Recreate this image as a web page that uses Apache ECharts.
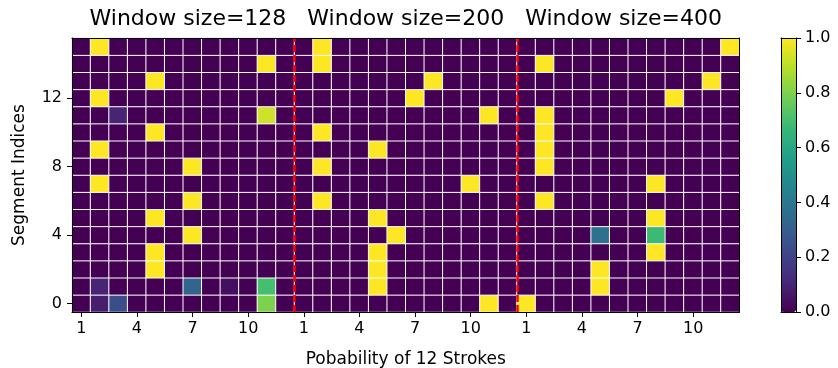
<!DOCTYPE html>
<html>
<head>
<meta charset="utf-8">
<script src="https://cdn.jsdelivr.net/npm/echarts@6/dist/echarts.min.js"></script>
<style>
  html, body { margin: 0; padding: 0; background: #fff; }
  #chart { width: 838px; height: 368px; }
</style>
</head>
<body>
<div id="chart"></div>
<script>
const titleText = "Window size=128   Window size=200   Window size=400";
const strokeLabels = ["1", "2", "3", "4", "5", "6", "7", "8", "9", "10", "11", "12"];
const segmentLabels = ["0", "1", "2", "3", "4", "5", "6", "7", "8", "9", "10", "11", "12", "13", "14", "15"];
const colorbarTicks = [0, 0.2, 0.4, 0.6, 0.8, 1.0];
const windowBoundaries = [12, 24];

// rows: segment 0 (bottom) .. 15 (top), 12 strokes each
const win128 = [
  [0, 0.08, 0.24, 0, 0, 0, 0, 0, 0, 0, 0.8, 0],
  [0, 0.1, 0, 0, 0, 0, 0.32, 0, 0.04, 0, 0.7, 0],
  [0, 0, 0, 0, 1, 0, 0, 0, 0, 0, 0, 0],
  [0, 0, 0, 0, 1, 0, 0, 0, 0, 0, 0, 0],
  [0, 0, 0, 0, 0, 0, 1, 0, 0, 0, 0, 0],
  [0, 0, 0, 0, 1, 0, 0, 0, 0, 0, 0, 0],
  [0, 0, 0, 0, 0, 0, 1, 0, 0, 0, 0, 0],
  [0, 1, 0, 0, 0, 0, 0, 0, 0, 0, 0, 0],
  [0, 0, 0, 0, 0, 0, 1, 0, 0, 0, 0, 0],
  [0, 1, 0, 0, 0, 0, 0, 0, 0, 0, 0, 0],
  [0, 0, 0, 0, 1, 0, 0, 0, 0, 0, 0, 0],
  [0, 0, 0.1, 0, 0, 0, 0, 0, 0, 0, 0.93, 0],
  [0, 1, 0, 0, 0, 0, 0, 0, 0, 0, 0, 0],
  [0, 0, 0, 0, 1, 0, 0, 0, 0, 0, 0, 0],
  [0, 0, 0, 0, 0, 0, 0, 0, 0, 0, 1, 0],
  [0, 1, 0, 0, 0, 0, 0, 0, 0, 0, 0, 0]
];
const win200 = [
  [0, 0, 0, 0, 0, 0, 0, 0, 0, 0, 1, 0],
  [0, 0, 0, 0, 1, 0, 0, 0, 0, 0, 0, 0],
  [0, 0, 0, 0, 1, 0, 0, 0, 0, 0, 0, 0],
  [0, 0, 0, 0, 1, 0, 0, 0, 0, 0, 0, 0],
  [0, 0, 0, 0, 0, 1, 0, 0, 0, 0, 0, 0],
  [0, 0, 0, 0, 1, 0, 0, 0, 0, 0, 0, 0],
  [0, 1, 0, 0, 0, 0, 0, 0, 0, 0, 0, 0],
  [0, 0, 0, 0, 0, 0, 0, 0, 0, 1, 0, 0],
  [0, 1, 0, 0, 0, 0, 0, 0, 0, 0, 0, 0],
  [0, 0, 0, 0, 1, 0, 0, 0, 0, 0, 0, 0],
  [0, 1, 0, 0, 0, 0, 0, 0, 0, 0, 0, 0],
  [0, 0, 0, 0, 0, 0, 0, 0, 0, 0, 1, 0],
  [0, 0, 0, 0, 0, 0, 1, 0, 0, 0, 0, 0],
  [0, 0, 0, 0, 0, 0, 0, 1, 0, 0, 0, 0],
  [0, 1, 0, 0, 0, 0, 0, 0, 0, 0, 0, 0],
  [0, 1, 0, 0, 0, 0, 0, 0, 0, 0, 0, 0]
];
const win400 = [
  [1, 0, 0, 0, 0, 0, 0, 0, 0, 0, 0, 0],
  [0, 0, 0, 0, 1, 0, 0, 0, 0, 0, 0, 0],
  [0, 0, 0, 0, 1, 0, 0, 0, 0, 0, 0, 0],
  [0, 0, 0, 0, 0, 0, 0, 1, 0, 0, 0, 0],
  [0, 0, 0, 0, 0.37, 0, 0, 0.68, 0, 0, 0, 0],
  [0, 0, 0, 0, 0, 0, 0, 1, 0, 0, 0, 0],
  [0, 1, 0, 0, 0, 0, 0, 0, 0, 0, 0, 0],
  [0, 0, 0, 0, 0, 0, 0, 1, 0, 0, 0, 0],
  [0, 1, 0, 0, 0, 0, 0, 0, 0, 0, 0, 0],
  [0, 1, 0, 0, 0, 0, 0, 0, 0, 0, 0, 0],
  [0, 1, 0, 0, 0, 0, 0, 0, 0, 0, 0, 0],
  [0, 1, 0, 0, 0, 0, 0, 0, 0, 0, 0, 0],
  [0, 0, 0, 0, 0, 0, 0, 0, 1, 0, 0, 0],
  [0, 0, 0, 0, 0, 0, 0, 0, 0, 0, 1, 0],
  [0, 1, 0, 0, 0, 0, 0, 0, 0, 0, 0, 0],
  [0, 0, 0, 0, 0, 0, 0, 0, 0, 0, 0, 1]
];

const viridis = ["#440154", "#482878", "#3e4989", "#31688e", "#26828e",
  "#1f9e89", "#35b779", "#6ece58", "#b5de2b", "#fde725"];

const windows = [win128, win200, win400];
const xCats = [];
windows.forEach(() => strokeLabels.forEach((s) => xCats.push(s)));
const cells = [];
windows.forEach((m, w) => {
  m.forEach((row, r) => {
    row.forEach((v, c) => cells.push([w * 12 + c, r, v]));
  });
});

const G = { left: 72, top: 38, width: 667.5, height: 274 };
const CB = { left: 781, top: 38, width: 15, height: 274 };
const font = "DejaVu Sans";
const black = { color: "#000", width: 1 };

// plain frame edge (line only)
const edge = (extra) => Object.assign({
  z: 10,
  axisLine: { show: true, onZero: false, lineStyle: black },
  axisTick: { show: false },
  axisLabel: { show: false },
  splitLine: { show: false }
}, extra);

const chart = echarts.init(document.getElementById("chart"));
chart.setOption({
  animation: false,
  textStyle: { fontFamily: font, color: "#000" },
  title: {
    text: titleText,
    left: G.left + G.width / 2,
    top: 8,
    padding: 0,
    textAlign: "center",
    textStyle: { fontFamily: font, fontSize: 22, fontWeight: "normal", color: "#000" }
  },
  grid: [
    Object.assign({ show: false, outerBoundsMode: "none" }, G),
    Object.assign({ show: false, outerBoundsMode: "none" }, CB)
  ],
  xAxis: [
    {
      type: "category",
      gridIndex: 0,
      data: xCats,
      z: 10,
      name: "Pobability of 12 Strokes",
      nameLocation: "middle",
      nameGap: 39,
      nameMoveOverlap: false,
      nameTextStyle: { fontSize: 17, color: "#000" },
      axisLine: { show: true, lineStyle: black },
      axisTick: { show: true, interval: (i) => i % 3 === 0, alignWithLabel: true, length: 5, lineStyle: black },
      axisLabel: { show: true, interval: (i) => i % 3 === 0, fontSize: 16, color: "#000", margin: 9 },
      splitLine: { show: false }
    },
    edge({ type: "value", gridIndex: 0, position: "top", min: 0, max: 36 }),
    edge({ type: "value", gridIndex: 1, position: "bottom", min: 0, max: 1 }),
    edge({ type: "value", gridIndex: 1, position: "top", min: 0, max: 1 })
  ],
  yAxis: [
    {
      type: "category",
      gridIndex: 0,
      data: segmentLabels,
      z: 10,
      name: "Segment Indices",
      nameLocation: "middle",
      nameGap: 44,
      nameTextStyle: { fontSize: 17, color: "#000" },
      axisLine: { show: true, lineStyle: black },
      axisTick: { show: true, interval: (i) => i % 4 === 0, alignWithLabel: true, length: 5, lineStyle: black },
      axisLabel: { show: true, interval: (i) => i % 4 === 0, fontSize: 16, color: "#000", margin: 10 },
      splitLine: { show: false }
    },
    edge({ type: "value", gridIndex: 0, position: "right", min: 0, max: 16 }),
    {
      type: "value",
      gridIndex: 1,
      position: "right",
      z: 10,
      min: colorbarTicks[0],
      max: colorbarTicks[colorbarTicks.length - 1],
      interval: 0.2,
      axisLine: { show: true, onZero: false, lineStyle: black },
      axisTick: { show: true, length: 5, lineStyle: black },
      axisLabel: { show: true, fontSize: 16, color: "#000", margin: 9, formatter: (v) => v.toFixed(1) },
      splitLine: { show: false }
    },
    edge({ type: "value", gridIndex: 1, position: "left", min: 0, max: 1 })
  ],
  visualMap: {
    type: "continuous",
    min: 0,
    max: 1,
    seriesIndex: 0,
    calculable: false,
    left: CB.left,
    top: CB.top,
    padding: 0,
    itemWidth: CB.width,
    itemHeight: CB.height,
    text: null,
    inRange: { color: viridis }
  },
  series: [
    {
      type: "heatmap",
      xAxisIndex: 0,
      yAxisIndex: 0,
      data: cells,
      itemStyle: { borderColor: "#ffffff", borderWidth: 1 },
      emphasis: { disabled: true }
    },
    {
      type: "line",
      xAxisIndex: 1,
      yAxisIndex: 1,
      data: [],
      z: 5,
      silent: true,
      markLine: {
        symbol: "none",
        silent: true,
        label: { show: false },
        lineStyle: { color: "#ff0000", width: 2.5, type: [7, 3] },
        data: windowBoundaries.map((b) => ({ xAxis: b }))
      }
    }
  ]
});
</script>
</body>
</html>
